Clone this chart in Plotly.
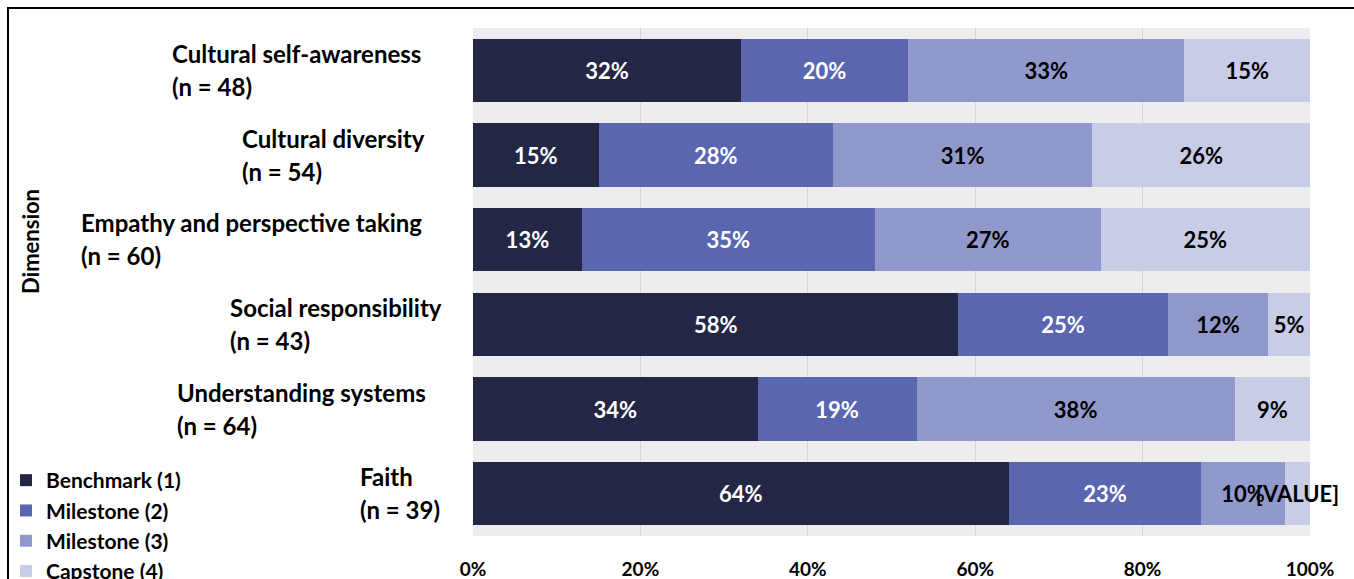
import plotly.graph_objects as go

categories = ["Cultural self-awareness", "Cultural diversity", "Empathy and perspective taking",
              "Social responsibility", "Understanding systems", "Faith"]
n_values = [48, 54, 60, 43, 64, 39]
series_names = ["Benchmark (1)", "Milestone (2)", "Milestone (3)", "Capstone (4)"]
benchmark1 = [32, 15, 13, 58, 34, 64]
milestone2 = [20, 28, 35, 25, 19, 23]
milestone3 = [33, 31, 27, 12, 38, 10]
capstone4 = [15, 26, 25, 5, 9, 3]
capstone_labels = ["15%", "26%", "25%", "5%", "9%", "[VALUE]"]
x_ticks = [0, 20, 40, 60, 80, 100]
x_tick_labels = ["0%", "20%", "40%", "60%", "80%", "100%"]

colors = ["#232745", "#5a67b0", "#9199cc", "#c8cce6"]
text_colors = ["white", "white", "black", "black"]
label_x_px = [170, 240, 79, 228, 175, 358]

W, H = 1354, 579
L, R, T, B = 473, 1310, 28, 536
FONT = "Lato"

def px_x(p):
    return (p - L) / (R - L)

def px_y(p):
    return (B - p) / (B - T)

fig = go.Figure()
all_vals = [benchmark1, milestone2, milestone3, capstone4]
for i, (name, vals) in enumerate(zip(series_names, all_vals)):
    if i == 3:
        texts = capstone_labels
    else:
        texts = [f"{v}%" for v in vals]
    fig.add_trace(go.Bar(
        y=categories, x=vals, name=name, orientation="h",
        marker=dict(color=colors[i], line=dict(width=0)),
        text=texts, textposition="inside", insidetextanchor="middle",
        textangle=0, constraintext="none", cliponaxis=False,
        textfont=dict(family=FONT, size=22, color=text_colors[i], weight="bold"),
        hoverinfo="skip",
    ))

annotations = []
for cat, n, xp in zip(categories, n_values, label_x_px):
    annotations.append(dict(text=f"<b>{cat}</b>", x=px_x(xp), xref="paper", y=cat, yref="y",
                            xanchor="left", yanchor="middle", yshift=17, showarrow=False,
                            font=dict(family=FONT, size=24, color="black")))
    annotations.append(dict(text=f"<b>(n = {n})</b>", x=px_x(xp), xref="paper", y=cat, yref="y",
                            xanchor="left", yanchor="middle", yshift=-16, showarrow=False,
                            font=dict(family=FONT, size=24, color="black")))
annotations.append(dict(text="<b>Dimension</b>", x=px_x(30), xref="paper", y=px_y(242), yref="paper",
                        textangle=-90, showarrow=False, xanchor="center", yanchor="middle",
                        font=dict(family=FONT, size=22, color="black")))

fig.update_layout(
    width=W, height=H,
    margin=dict(l=L, r=W - R, t=T, b=H - B, autoexpand=False),
    barmode="stack", bargap=0.25,
    paper_bgcolor="white", plot_bgcolor="#ededed",
    font=dict(family=FONT, color="black"),
    showlegend=True,
    legend=dict(x=px_x(6), y=px_y(460), xanchor="left", yanchor="top",
                traceorder="normal", bgcolor="rgba(0,0,0,0)",
                font=dict(family=FONT, size=21, color="black", weight="bold"),
                itemwidth=30, tracegroupgap=0),
    annotations=annotations,
    shapes=[dict(type="rect", xref="paper", yref="paper",
                 x0=px_x(8), x1=px_x(1360), y0=px_y(590), y1=px_y(8),
                 line=dict(color="black", width=2), fillcolor="rgba(0,0,0,0)", layer="below")],
)
fig.update_xaxes(range=[0, 100], tickvals=x_ticks, ticktext=[f"<b>{t}</b>" for t in x_tick_labels],
                 showgrid=True, gridcolor="#d4d4d4", gridwidth=1, zeroline=False,
                 tickfont=dict(family=FONT, size=19, color="black"), ticklabelstandoff=20,
                 fixedrange=True)
fig.update_yaxes(autorange="reversed", showticklabels=False, showgrid=False, fixedrange=True)

fig.write_html("out.html")
